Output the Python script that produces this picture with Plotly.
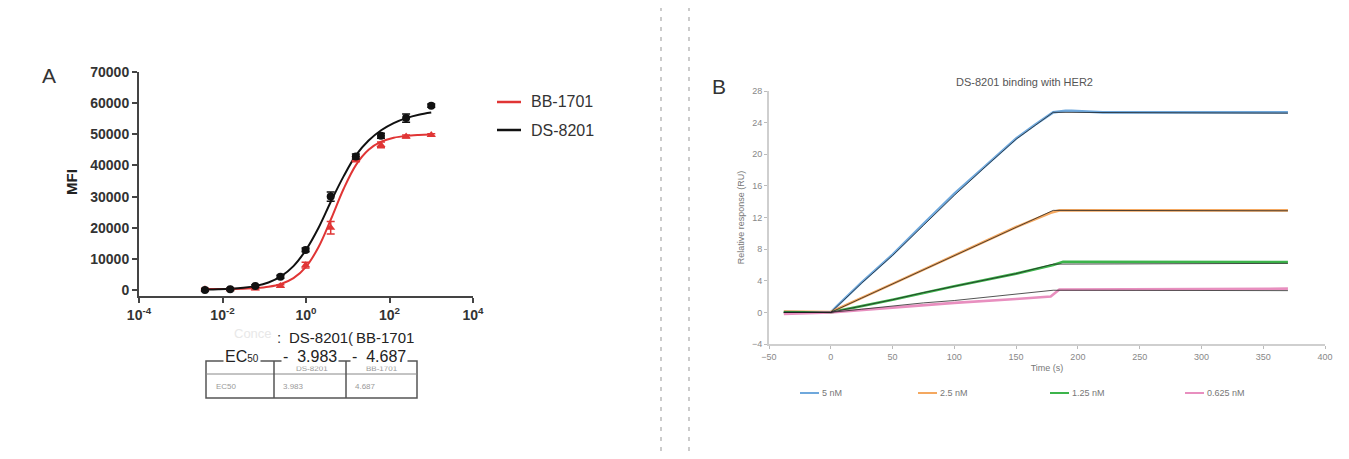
import plotly.graph_objects as go

# ---------------- Panel A data ----------------
conc = [0.0038, 0.0153, 0.061, 0.244, 0.977, 3.906, 15.63, 62.5, 250, 1000]
ds8201_mfi = [0, 300, 1300, 4300, 12900, 30000, 42900, 49500, 55200, 59200]
ds8201_err = [300, 300, 400, 500, 600, 1500, 800, 800, 1300, 500]
bb1701_mfi = [300, 300, 500, 1300, 8000, 20000, 42000, 46600, 49300, 49800]
bb1701_err = [300, 300, 300, 400, 900, 2000, 800, 900, 500, 400]

curve_conc = [0.004, 0.0079, 0.0158, 0.0316, 0.063, 0.126, 0.251, 0.501, 1.0, 2.0,
              3.98, 7.94, 15.8, 31.6, 63.1, 126, 251, 501, 1000]
ds8201_curve = [150, 250, 420, 750, 1350, 2450, 4400, 7700, 12900, 20000,
                28500, 36500, 43300, 48000, 51300, 53600, 55200, 56300, 57000]
bb1701_curve = [315, 332, 371, 457, 645, 1063, 1960, 3830, 7480, 13830,
                22810, 32440, 40180, 45020, 47620, 48900, 49500, 49770, 49900]

a_xticks = [1e-4, 1e-2, 1, 1e2, 1e4]
a_xticklabels = ["10<sup>-4</sup>", "10<sup>-2</sup>", "10<sup>0</sup>", "10<sup>2</sup>", "10<sup>4</sup>"]
a_yticks = [0, 10000, 20000, 30000, 40000, 50000, 60000, 70000]

ec50_names = ["DS-8201", "BB-1701"]
ec50_values = ["3.983", "4.687"]

# ---------------- Panel B data ----------------
b_series = ["5 nM", "2.5 nM", "1.25 nM", "0.625 nM"]
b_colors = ["#6fa8dc", "#f4a860", "#3cb44b", "#e88fbf"]
t_5 = [-38, -20, 0, 5, 25, 50, 75, 100, 125, 150, 165, 180, 190, 195, 220, 260, 300, 340, 370]
r_5 = [0.1, 0.0, 0.0, 0.8, 3.8, 7.3, 11.2, 15.0, 18.5, 22.0, 23.7, 25.3, 25.5, 25.5, 25.3, 25.3, 25.3, 25.3, 25.3]
t_25 = [-38, 0, 50, 100, 150, 178, 185, 370]
r_25 = [0.1, 0.05, 3.6, 7.2, 10.8, 12.6, 12.9, 12.9]
t_125 = [-38, 0, 50, 100, 150, 180, 188, 370]
r_125 = [0.0, 0.0, 1.6, 3.3, 4.9, 6.0, 6.4, 6.35]
t_0625 = [-38, 0, 50, 100, 150, 178, 185, 370]
r_0625 = [-0.2, 0.0, 0.6, 1.2, 1.7, 2.0, 2.9, 3.0]

t_fit = [-38, 0, 25, 50, 75, 100, 125, 150, 180, 370]
fit_5 = [0.0, 0.0, 3.7, 7.2, 11.0, 14.8, 18.4, 21.9, 25.3, 25.2]
fit_25 = [0.0, 0.0, 1.8, 3.6, 5.4, 7.2, 9.0, 10.8, 12.9, 12.85]
fit_125 = [0.0, 0.0, 0.8, 1.6, 2.5, 3.3, 4.1, 4.9, 6.1, 6.2]
fit_0625 = [0.0, 0.0, 0.4, 0.8, 1.2, 1.5, 1.9, 2.3, 2.8, 2.75]

b_xticks = [-50, 0, 50, 100, 150, 200, 250, 300, 350, 400]
b_yticks = [-4, 0, 4, 8, 12, 16, 20, 24, 28]

# page body has an 8px margin: the figure is placed at (8, 8)
OFF = 8
W, H = 1349 - 2 * OFF, 459 - 2 * OFF
def px(x):
    return (x - OFF) / W
def py(y):
    return 1 - (y - OFF) / H

FONT = "Arial, Liberation Sans, sans-serif"
fig = go.Figure()

# Panel A curves
fig.add_trace(go.Scatter(x=curve_conc, y=bb1701_curve, mode="lines", line=dict(color="#e03535", width=2, shape="spline"),
                         xaxis="x", yaxis="y", showlegend=False, hoverinfo="skip"))
fig.add_trace(go.Scatter(x=curve_conc, y=ds8201_curve, mode="lines", line=dict(color="#111111", width=2, shape="spline"),
                         xaxis="x", yaxis="y", showlegend=False, hoverinfo="skip"))
fig.add_trace(go.Scatter(x=conc, y=bb1701_mfi, mode="markers", marker=dict(symbol="triangle-up", size=8, color="#e03535"),
                         error_y=dict(type="data", array=bb1701_err, color="#e03535", thickness=1.5, width=4),
                         xaxis="x", yaxis="y", showlegend=False, name="BB-1701"))
fig.add_trace(go.Scatter(x=conc, y=ds8201_mfi, mode="markers", marker=dict(symbol="circle", size=8, color="#111111"),
                         error_y=dict(type="data", array=ds8201_err, color="#111111", thickness=1.5, width=4),
                         xaxis="x", yaxis="y", showlegend=False, name="DS-8201"))

# Panel B lines
for t, r, c in [(t_5, r_5, b_colors[0]), (t_25, r_25, b_colors[1]), (t_125, r_125, b_colors[2]), (t_0625, r_0625, b_colors[3])]:
    fig.add_trace(go.Scatter(x=t, y=r, mode="lines", line=dict(color=c, width=2.6), xaxis="x2", yaxis="y2",
                             showlegend=False, hoverinfo="skip"))
for f in [fit_5, fit_25, fit_125, fit_0625]:
    fig.add_trace(go.Scatter(x=t_fit, y=f, mode="lines", line=dict(color="rgba(30,30,30,0.85)", width=0.9), xaxis="x2", yaxis="y2",
                             showlegend=False, hoverinfo="skip"))

shapes = []
annotations = []

# dashed separators
for xv in [661, 689]:
    shapes.append(dict(type="line", xref="paper", yref="paper", x0=px(xv), x1=px(xv), y0=0, y1=1,
                       line=dict(color="#aaaaaa", width=1.2, dash="4px,6px")))

# Panel A label and legend
annotations.append(dict(text="A", x=px(40), y=py(76), xref="paper", yref="paper", showarrow=False,
                        font=dict(family=FONT, size=21, color="#333"), xanchor="left", yanchor="middle"))
for yy, col, name in [(102, "#e03535", "BB-1701"), (130, "#111111", "DS-8201")]:
    shapes.append(dict(type="line", xref="paper", yref="paper", x0=px(497), x1=px(521), y0=py(yy), y1=py(yy),
                       line=dict(color=col, width=2.5)))
    annotations.append(dict(text=name, x=px(529), y=py(yy), xref="paper", yref="paper", showarrow=False,
                            font=dict(family=FONT, size=16, color="#333"), xanchor="left", yanchor="middle"))
annotations.append(dict(text="<b>MFI</b>", x=px(72), y=py(182), xref="paper", yref="paper", showarrow=False,
                        textangle=-90, font=dict(family=FONT, size=15, color="#222"), xanchor="center", yanchor="middle"))

# EC50 table (image-like, faint)
tl, tr, tt, tb = 206, 417, 361, 398
tcol = "#555555"
shapes.append(dict(type="rect", xref="paper", yref="paper", x0=px(tl), x1=px(tr), y0=py(tb), y1=py(tt),
                   line=dict(color=tcol, width=1.5)))
shapes.append(dict(type="line", xref="paper", yref="paper", x0=px(tl), x1=px(tr), y0=py(374), y1=py(374),
                   line=dict(color="#888", width=1)))
for xv in [274, 346]:
    shapes.append(dict(type="line", xref="paper", yref="paper", x0=px(xv), x1=px(xv), y0=py(tb), y1=py(tt),
                       line=dict(color=tcol, width=1.5)))
for txt, xx, yy, anc in [(ec50_names[0], 312, 368, "center"), (ec50_names[1], 382, 368, "center"),
                         ("EC50", 214, 386, "left"), (ec50_values[0], 281, 386, "left"), (ec50_values[1], 353, 386, "left")]:
    annotations.append(dict(text=txt, x=px(xx), y=py(yy), xref="paper", yref="paper", showarrow=False,
                            font=dict(family=FONT, size=8, color="#9a9a9a"), xanchor=anc, yanchor="middle"))
# overlay text rows (white background)
annotations.append(dict(text="Conce", x=px(232), y=py(333), xref="paper", yref="paper", showarrow=False,
                        font=dict(family=FONT, size=13, color="#e8e8e8"), xanchor="left", yanchor="middle"))
annotations.append(dict(text=":", x=px(279), y=py(337), xref="paper", yref="paper", showarrow=False,
                        font=dict(family=FONT, size=15, color="#333"), xanchor="center", yanchor="middle"))
annotations.append(dict(text=ec50_names[0], x=px(318), y=py(337), xref="paper", yref="paper", showarrow=False,
                        bgcolor="white", font=dict(family=FONT, size=15, color="#222"), xanchor="center", yanchor="middle"))
annotations.append(dict(text="(", x=px(350), y=py(337), xref="paper", yref="paper", showarrow=False,
                        font=dict(family=FONT, size=15, color="#333"), xanchor="center", yanchor="middle"))
annotations.append(dict(text=ec50_names[1], x=px(385), y=py(337), xref="paper", yref="paper", showarrow=False,
                        bgcolor="white", font=dict(family=FONT, size=15, color="#222"), xanchor="center", yanchor="middle"))
annotations.append(dict(text="EC<span style='font-size:10px'>50</span>", x=px(242), y=py(356), xref="paper", yref="paper",
                        showarrow=False, bgcolor="white", font=dict(family=FONT, size=16, color="#222"),
                        xanchor="center", yanchor="middle"))
annotations.append(dict(text="-  " + ec50_values[0], x=px(281), y=py(356), xref="paper", yref="paper", showarrow=False,
                        bgcolor="white", font=dict(family=FONT, size=16, color="#222"), xanchor="left", yanchor="middle"))
annotations.append(dict(text="-  " + ec50_values[1], x=px(350), y=py(356), xref="paper", yref="paper", showarrow=False,
                        bgcolor="white", font=dict(family=FONT, size=16, color="#222"), xanchor="left", yanchor="middle"))

# Panel B label, title, legend
annotations.append(dict(text="B", x=px(710), y=py(86), xref="paper", yref="paper", showarrow=False,
                        font=dict(family=FONT, size=21, color="#333"), xanchor="left", yanchor="middle"))
annotations.append(dict(text="DS-8201 binding with HER2", x=px(1025), y=py(82), xref="paper", yref="paper", showarrow=False,
                        font=dict(family=FONT, size=11, color="#555"), xanchor="center", yanchor="middle"))
for name, col, x0 in zip(b_series, b_colors, [800, 918, 1050, 1185]):
    shapes.append(dict(type="line", xref="paper", yref="paper", x0=px(x0), x1=px(x0 + 19), y0=py(393), y1=py(393),
                       line=dict(color=col, width=2)))
    annotations.append(dict(text=name, x=px(x0 + 20), y=py(393), xref="paper", yref="paper", showarrow=False,
                            font=dict(family=FONT, size=9, color="#777"), xanchor="left", yanchor="middle"))

fig.update_layout(
    template="none",
    width=W, height=H, margin=dict(l=0, r=0, t=0, b=0, autoexpand=False), paper_bgcolor="white", plot_bgcolor="white",
    showlegend=False, font=dict(family=FONT),
    xaxis=dict(domain=[px(139), px(473)], type="log", range=[-4, 4], tickvals=a_xticks, ticktext=a_xticklabels,
               showline=True, linecolor="#444", linewidth=2, ticks="outside", ticklen=5, tickwidth=1.8, tickcolor="#444",
               showgrid=False, zeroline=False, automargin=False,
               tickfont=dict(family=FONT, size=14, color="#333", weight="bold"), anchor="y"),
    yaxis=dict(domain=[py(296), py(72)], range=[-1900, 70000], tickvals=a_yticks,
               showline=True, linecolor="#444", linewidth=2, ticks="outside", ticklen=5, tickwidth=1.8, tickcolor="#444",
               showgrid=False, zeroline=False, automargin=False,
               tickfont=dict(family=FONT, size=14, color="#333", weight="bold"), anchor="x",
               tickformat="d"),
    xaxis2=dict(domain=[px(769), px(1325)], range=[-50, 400], tickvals=b_xticks,
                showline=True, linecolor="#cfcfcf", linewidth=2, ticks="outside", ticklen=3, tickcolor="#bbb",
                showgrid=False, zeroline=False, automargin=False,
                tickfont=dict(family=FONT, size=9, color="#888"), anchor="y2",
                title=dict(text="Time (s)", font=dict(family=FONT, size=9, color="#777"), standoff=4)),
    yaxis2=dict(domain=[py(344), py(91)], range=[-4, 28], tickvals=b_yticks,
                showline=True, linecolor="#cfcfcf", linewidth=2, ticks="outside", ticklen=3, tickcolor="#bbb",
                showgrid=False, zeroline=False, automargin=False,
                tickfont=dict(family=FONT, size=9, color="#888"), anchor="x2",
                title=dict(text="Relative response (RU)", font=dict(family=FONT, size=9, color="#777"), standoff=6)),
    shapes=shapes, annotations=annotations,
)

fig.write_html("out.html")
